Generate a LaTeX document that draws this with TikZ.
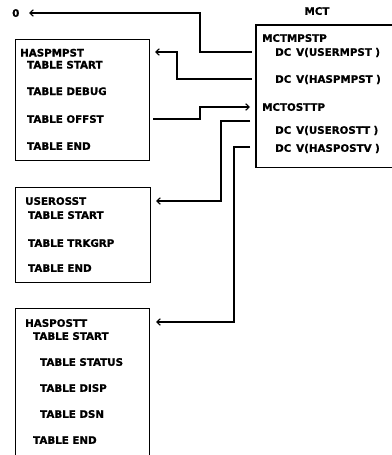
\documentclass[tikz,border=0pt]{standalone}
\usepackage{fontspec}
\setmainfont{DejaVu Sans}
\newfontfamily\lblfont[FakeBold=1]{DejaVu Sans Bold}
\usetikzlibrary{arrows.meta}
\begin{document}
\begin{tikzpicture}[x=1pt,y=-1pt,
  lbl/.style={anchor=base west, inner sep=0pt, font=\lblfont\fontsize{10.3}{12}\selectfont},
  box/.style={draw, line width=1.3pt, inner sep=0pt, anchor=north west},
  conn/.style={line width=1.1pt},
  arr/.style={conn, -{Straight Barb[length=3.5pt,width=6.5pt]}}]
\useasboundingbox (0,0) rectangle (391,455);

% boxes
\node[box, minimum width=134pt, minimum height=121pt] (hm) at (15,39) {};
\node[box, minimum width=135pt, minimum height=95pt] (uo) at (15,187) {};
\node[box, minimum width=134pt, minimum height=170pt] (ho) at (15,308) {};
\node[inner sep=0pt, anchor=north west, minimum width=140pt, minimum height=142pt] (mct) at (256,25) {};
\draw[line width=1.3pt] (mct.north east) -- (mct.north west) -- (mct.south west) -- (mct.south east);

% labels
\node[lbl] (zero) at (12,16.8) {0};
\node[lbl, anchor=base] (mctt) at (317,14.8) {MCT};

\node[lbl] (hm0) at (20,56.5) {HASPMPST};
\node[lbl] (hm1) at (27,68.5) {TABLE START};
\node[lbl] (hm2) at (27,95) {TABLE DEBUG};
\node[lbl] (hm3) at (27,122.8) {TABLE OFFST};
\node[lbl] (hm4) at (27,149.8) {TABLE END};

\node[lbl] (uo0) at (25,204.8) {USEROSST};
\node[lbl] (uo1) at (28,218.8) {TABLE START};
\node[lbl] (uo2) at (28,246.8) {TABLE TRKGRP};
\node[lbl] (uo3) at (28,271.8) {TABLE END};

\node[lbl] (ho0) at (25,326.8) {HASPOSTT};
\node[lbl] (ho1) at (33,339.8) {TABLE START};
\node[lbl] (ho2) at (40,365.8) {TABLE STATUS};
\node[lbl] (ho3) at (40,391.8) {TABLE DISP};
\node[lbl] (ho4) at (40,417.8) {TABLE DSN};
\node[lbl] (ho5) at (33,443.8) {TABLE END};

\node[lbl] (m0) at (262,41.8) {MCTMPSTP};
\node[lbl] (m1a) at (275,55.8) {DC};
\node[lbl] (m1b) at (296,55.8) {V(USERMPST\,\,)};
\node[lbl] (m2a) at (275,82.8) {DC};
\node[lbl] (m2b) at (296,82.8) {V(HASPMPST\,\,)};
\node[lbl] (m3) at (262,110.8) {MCTOSTTP};
\node[lbl] (m4a) at (275,133.8) {DC};
\node[lbl] (m4b) at (296,133.8) {V(USEROSTT\,\,)};
\node[lbl] (m5a) at (275,151.8) {DC};
\node[lbl] (m5b) at (296,151.8) {V(HASPOSTV\,\,)};

% connector end points
\coordinate (s1) at (252,52);
\coordinate (t1) at (29,13);
\coordinate (s2) at (252,79);
\coordinate (t2) at (155,52);
\coordinate (s3) at (153,119);
\coordinate (t3) at (250,107);
\coordinate (s4) at (250,121);
\coordinate (t4) at (156,201);
\coordinate (s5) at (250,147);
\coordinate (t5) at (156,322);

% connectors
\draw[arr] (s1) -- (200,52) |- (t1);
\draw[arr] (s2) -- (177,79) |- (t2);
\draw[arr] (s3) -- (200,119) |- (t3);
\draw[arr] (s4) -- (221,121) |- (t4);
\draw[arr] (s5) -- (234,147) |- (t5);
\end{tikzpicture}
\end{document}
